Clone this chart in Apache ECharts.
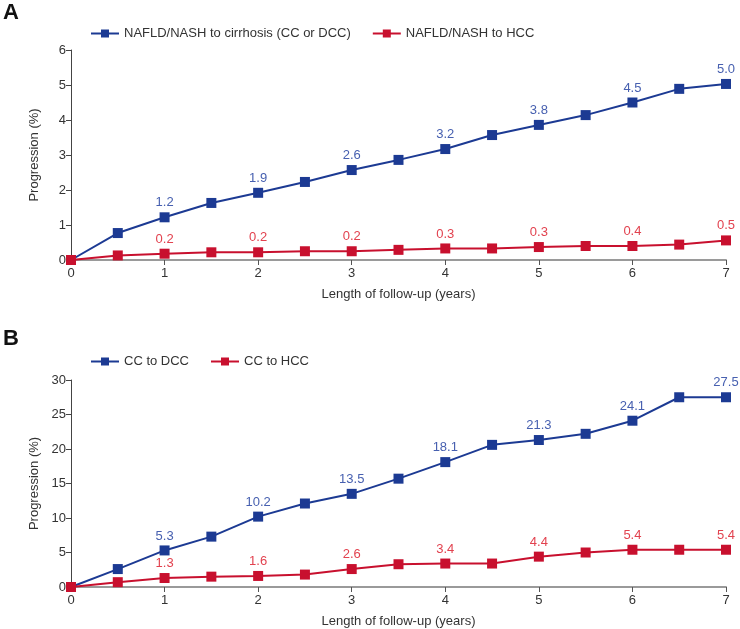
<!DOCTYPE html>
<html>
<head>
<meta charset="utf-8">
<script src="https://cdn.jsdelivr.net/npm/echarts@6/dist/echarts.min.js"></script>
<style>html,body{margin:0;padding:0;background:#fff;}#c{width:740px;height:629px;}</style>
</head>
<body>
<div id="c"></div>
<script>
var years = [0, 0.5, 1, 1.5, 2, 2.5, 3, 3.5, 4, 4.5, 5, 5.5, 6, 6.5, 7];
var xTicks = [0, 1, 2, 3, 4, 5, 6, 7];
var yTicksA = [0, 1, 2, 3, 4, 5, 6];
var yTicksB = [0, 5, 10, 15, 20, 25, 30];

var nafldCirrhosis = [0, 0.77, 1.22, 1.63, 1.92, 2.23, 2.57, 2.86, 3.17, 3.57, 3.86, 4.14, 4.5, 4.89, 5.03];
var nafldHcc = [0, 0.13, 0.18, 0.22, 0.22, 0.25, 0.25, 0.29, 0.33, 0.33, 0.37, 0.4, 0.4, 0.44, 0.56];
var ccDcc = [0, 2.6, 5.3, 7.3, 10.2, 12.1, 13.5, 15.7, 18.1, 20.6, 21.3, 22.2, 24.1, 27.5, 27.5];
var ccHcc = [0, 0.7, 1.3, 1.5, 1.6, 1.8, 2.6, 3.3, 3.4, 3.4, 4.4, 5.0, 5.4, 5.4, 5.4];

// labels shown at integer years (1..7)
var lblNafldCirrhosis = ['1.2', '1.9', '2.6', '3.2', '3.8', '4.5', '5.0'];
var lblNafldHcc = ['0.2', '0.2', '0.2', '0.3', '0.3', '0.4', '0.5'];
var lblCcDcc = ['5.3', '10.2', '13.5', '18.1', '21.3', '24.1', '27.5'];
var lblCcHcc = ['1.3', '1.6', '2.6', '3.4', '4.4', '5.4', '5.4'];

var BLUE = '#1c3a93', BLUE_L = '#4760b0', RED = '#c8102e', RED_L = '#e2424f';
var FONT = 'Liberation Sans, Arial, sans-serif';

function pts(vals) { return years.map(function (y, i) { return [y, vals[i]]; }); }
function mkLabel(labels, color) {
  return {
    show: true, position: 'top', distance: 3, color: color, fontSize: 13, fontFamily: FONT,
    formatter: function (p) {
      var x = p.value[0];
      if (x >= 1 && Math.abs(x - Math.round(x)) < 1e-6) return labels[Math.round(x) - 1];
      return '';
    }
  };
}
function series(name, vals, labels, color, lcolor, idx) {
  return {
    name: name, type: 'line', xAxisIndex: idx, yAxisIndex: idx, data: pts(vals),
    symbol: 'rect', symbolSize: 10, showSymbol: true,
    lineStyle: { color: color, width: 2 }, itemStyle: { color: color },
    label: mkLabel(labels, lcolor), animation: false, z: 3
  };
}
function xAxis(idx) {
  return {
    type: 'value', gridIndex: idx, min: xTicks[0], max: xTicks[xTicks.length - 1], interval: 1,
    name: 'Length of follow-up (years)', nameLocation: 'middle', nameGap: 28,
    nameTextStyle: { color: '#333', fontSize: 13, fontFamily: FONT },
    axisLine: { show: true, lineStyle: { color: '#9a9a9a', width: 2 } },
    axisTick: { show: true, length: 5, lineStyle: { color: '#555', width: 1 } },
    axisLabel: { color: '#333', fontSize: 13, fontFamily: FONT, margin: 7 },
    splitLine: { show: false }
  };
}
function yAxis(idx, ticks) {
  return {
    type: 'value', gridIndex: idx, min: ticks[0], max: ticks[ticks.length - 1], interval: ticks[1] - ticks[0],
    name: 'Progression (%)', nameLocation: 'middle', nameGap: 30,
    nameTextStyle: { color: '#333', fontSize: 13, fontFamily: FONT },
    axisLine: { show: true, lineStyle: { color: '#444', width: 1 } },
    axisTick: { show: true, length: 5, lineStyle: { color: '#444' } },
    axisLabel: { color: '#333', fontSize: 13, fontFamily: FONT, margin: 5 },
    splitLine: { show: false }
  };
}

var chart = echarts.init(document.getElementById('c'));
chart.setOption({
  backgroundColor: '#fff',
  animation: false,
  graphic: [
    { type: 'text', left: 3, top: 2, style: { text: 'A', font: 'bold 22px ' + FONT, fill: '#111' } },
    { type: 'text', left: 3, top: 328, style: { text: 'B', font: 'bold 22px ' + FONT, fill: '#111' } }
  ],
  legend: [
    { left: 85, top: 22, itemWidth: 28, itemHeight: 10, itemGap: 21,
      textStyle: { color: '#333', fontSize: 13, fontFamily: FONT },
      data: ['NAFLD/NASH to cirrhosis (CC or DCC)', 'NAFLD/NASH to HCC'] },
    { left: 85, top: 350, itemWidth: 28, itemHeight: 10, itemGap: 21,
      textStyle: { color: '#333', fontSize: 13, fontFamily: FONT },
      data: ['CC to DCC', 'CC to HCC'] }
  ],
  grid: [
    { left: 71, right: 14, top: 50, height: 210 },
    { left: 71, right: 14, top: 380, height: 210 }
  ],
  xAxis: [xAxis(0), xAxis(1)],
  yAxis: [yAxis(0, yTicksA), yAxis(1, yTicksB)],
  series: [
    series('NAFLD/NASH to cirrhosis (CC or DCC)', nafldCirrhosis, lblNafldCirrhosis, BLUE, BLUE_L, 0),
    series('NAFLD/NASH to HCC', nafldHcc, lblNafldHcc, RED, RED_L, 0),
    series('CC to DCC', ccDcc, lblCcDcc, BLUE, BLUE_L, 1),
    series('CC to HCC', ccHcc, lblCcHcc, RED, RED_L, 1)
  ]
});
</script>
</body>
</html>
